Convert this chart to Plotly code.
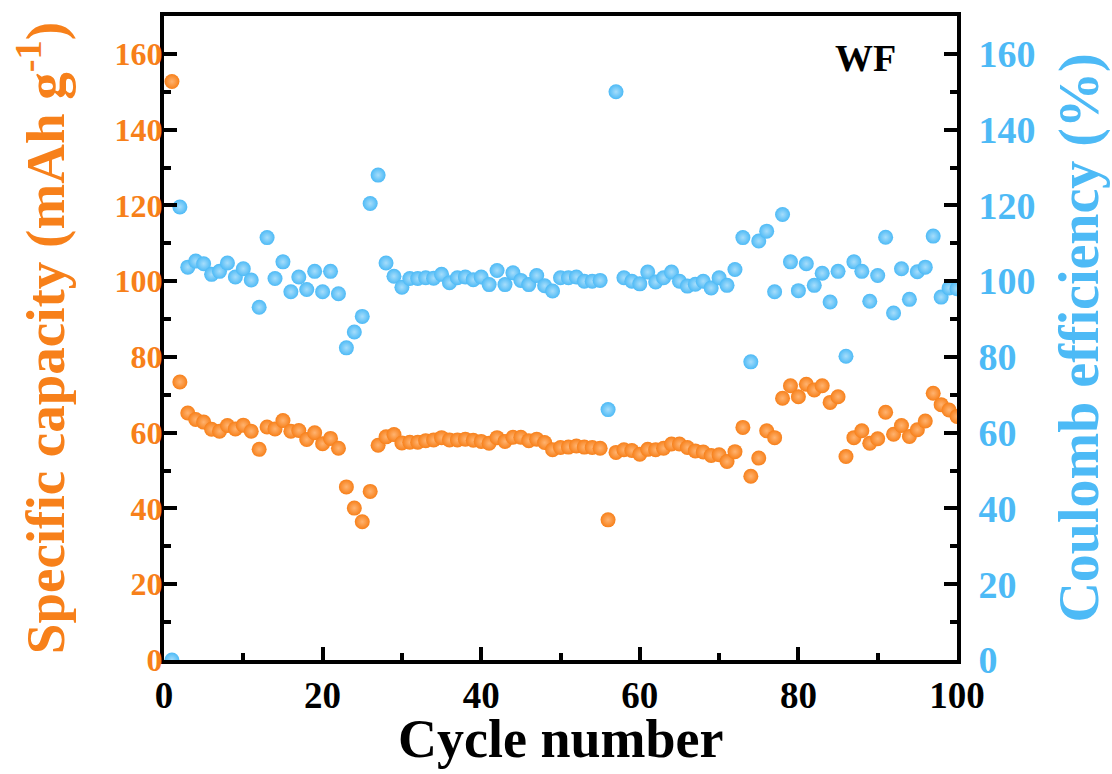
import plotly.graph_objects as go

cycles = list(range(1, 101))

capacity = [152.7, 73.4, 65.2, 63.5, 62.8, 60.9, 60.4, 61.9, 61.0, 62.0,
            60.4, 55.6, 61.5, 61.0, 63.2, 60.4, 60.6, 58.2, 60.0, 57.1,
            58.5, 55.9, 45.7, 40.1, 36.5, 44.5, 56.7, 58.9, 59.5, 57.3,
            57.5, 57.5, 57.9, 58.1, 58.7, 58.1, 58.1, 58.3, 58.0, 57.7,
            57.2, 58.7, 57.7, 58.8, 58.8, 57.9, 58.3, 57.4, 55.5, 56.1,
            56.2, 56.5, 56.2, 56.1, 55.9, 37.0, 54.8, 55.5, 55.3, 54.3,
            55.6, 55.5, 55.9, 57.0, 57.0, 56.1, 55.2, 54.9, 54.0, 54.2,
            52.4, 55.0, 61.4, 48.5, 53.3, 60.5, 58.7, 69.1, 72.4, 69.5,
            72.8, 71.3, 72.4, 68.0, 69.5, 53.7, 58.7, 60.5, 57.2, 58.4,
            65.4, 59.6, 61.9, 59.0, 60.8, 63.1, 70.4, 67.4, 66.0, 64.3]

efficiency = [0.0, 119.6, 103.7, 105.3, 104.6, 101.8, 102.6, 104.8, 101.1, 103.3,
              100.3, 93.1, 111.5, 100.7, 105.1, 97.2, 101.1, 97.8, 102.6, 97.2,
              102.6, 96.7, 82.4, 86.6, 90.7, 120.5, 128.0, 104.8, 101.3, 98.4,
              100.7, 100.7, 100.9, 100.8, 101.8, 99.6, 100.9, 101.1, 100.4, 101.1,
              99.1, 102.8, 99.1, 102.2, 100.2, 99.1, 101.5, 98.8, 97.4, 100.9,
              100.9, 101.1, 100.0, 100.0, 100.2, 66.1, 150.0, 100.9, 100.0, 99.3,
              102.4, 99.8, 100.9, 102.4, 100.0, 98.7, 99.2, 100.0, 98.2, 100.9,
              98.9, 103.1, 111.5, 78.7, 110.6, 113.2, 97.2, 117.6, 105.1, 97.5,
              104.6, 98.9, 102.1, 94.5, 102.6, 80.2, 105.1, 102.6, 94.7, 101.5,
              111.6, 91.6, 103.3, 95.2, 102.5, 103.7, 111.9, 95.8, 98.2, 98.0]

y_ticks = [0, 20, 40, 60, 80, 100, 120, 140, 160]
x_ticks = [0, 20, 40, 60, 80, 100]

ORANGE = "#F7801A"
BLUE = "#4DBAF6"
FONT = "Liberation Serif"

fig = go.Figure()
fig.add_trace(go.Scatter(
    x=cycles, y=capacity, mode="markers", name="Specific capacity",
    marker=dict(size=15, color=ORANGE, line=dict(width=0),
                gradient=dict(type="radial", color="#FFB370")),
    yaxis="y", showlegend=False))
fig.add_trace(go.Scatter(
    x=cycles, y=efficiency, mode="markers", name="Coulomb efficiency",
    marker=dict(size=15, color=BLUE, line=dict(width=0),
                gradient=dict(type="radial", color="#A6DDFB")),
    yaxis="y2", showlegend=False))

axis_common = dict(showline=True, linecolor="black", linewidth=4,
                   ticks="inside", ticklen=13, tickwidth=4, tickcolor="black",
                   showgrid=False, zeroline=False)
minor_y = dict(ticks="inside", ticklen=7, tickwidth=4, dtick=10,
               tickcolor="black", tick0=0)

fig.update_layout(
    width=1112, height=774,
    margin=dict(l=164, r=148, t=14, b=114),
    paper_bgcolor="white", plot_bgcolor="white",
    showlegend=False,
    xaxis=dict(range=[0, 100], tickvals=x_ticks, mirror=True,
               minor=dict(ticks="inside", ticklen=7, tickwidth=4, dtick=10,
                          tickcolor="black", tick0=0),
               tickfont=dict(family=FONT, size=37, color="black", weight="bold"),
               **axis_common),
    yaxis=dict(range=[0, 170], tickvals=y_ticks, minor=minor_y,
               ticklabelstandoff=-9,
               tickfont=dict(family=FONT, size=32, color=ORANGE, weight="bold"),
               title=dict(text="Specific capacity (mAh g<sup>-1</sup>)", standoff=33,
                          font=dict(family=FONT, size=55, color=ORANGE, weight="bold")),
               **axis_common),
    yaxis2=dict(range=[0, 170], tickvals=y_ticks, overlaying="y", side="right",
                minor=minor_y, ticklabelstandoff=10,
                tickfont=dict(family=FONT, size=38, color=BLUE, weight="bold"),
                title=dict(text="Coulomb efficiency (%)", standoff=25,
                           font=dict(family=FONT, size=56, color=BLUE, weight="bold")),
                **axis_common),
    annotations=[
        dict(text="WF", xref="paper", yref="paper", x=0.885, y=0.935,
             xanchor="center", yanchor="middle", showarrow=False,
             font=dict(family=FONT, size=38, color="black", weight="bold")),
        dict(text="Cycle number", xref="paper", yref="paper", x=0.5, y=-0.123,
             xanchor="center", yanchor="middle", showarrow=False,
             font=dict(family=FONT, size=54, color="black", weight="bold")),
    ],
)

fig.write_html("out.html", config={"displayModeBar": False},
               post_script="document.body.style.margin='0px';")
